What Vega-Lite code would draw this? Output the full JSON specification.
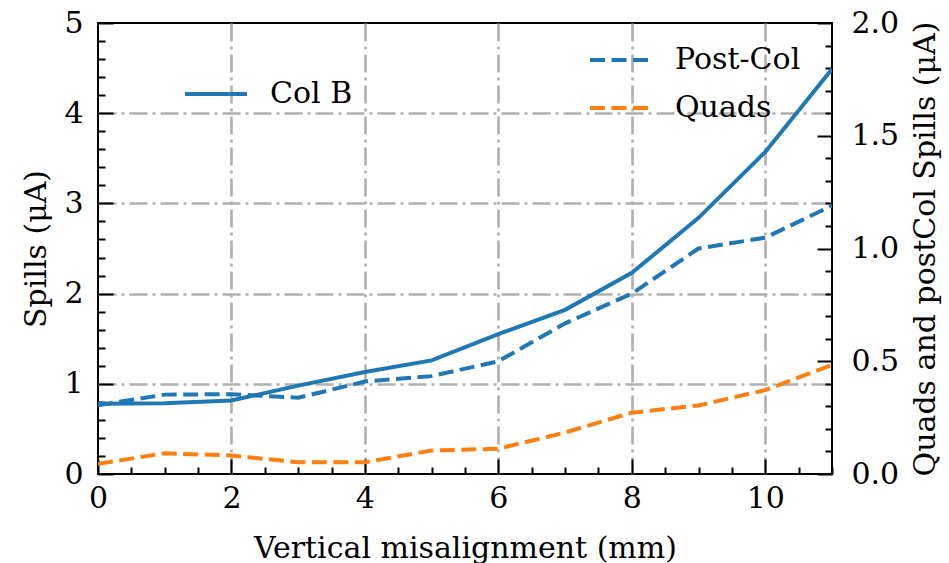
{
  "$schema": "https://vega.github.io/schema/vega-lite/v6.json",
  "width": 734,
  "height": 451,
  "autosize": {"type": "none"},
  "padding": {"left": 98, "top": 23, "right": 117, "bottom": 89},
  "background": "white",
  "config": {
    "font": "DejaVu Serif",
    "view": {"stroke": "black", "strokeWidth": 2},
    "axis": {
      "labelFont": "DejaVu Serif",
      "titleFont": "DejaVu Serif",
      "labelFontSize": 30,
      "titleFontSize": 30,
      "titleFontWeight": "normal",
      "labelColor": "black",
      "titleColor": "black",
      "tickColor": "black",
      "tickWidth": 2,
      "domain": false,
      "labelOverlap": false,
      "labelFlush": false,
      "gridColor": "#b0b0b0",
      "gridWidth": 2.6,
      "gridDash": [18, 5, 3, 5]
    },
    "legend": {
      "labelFont": "DejaVu Serif",
      "labelFontSize": 30,
      "labelColor": "black",
      "symbolType": "stroke",
      "symbolSize": 3844,
      "symbolStrokeWidth": 4,
      "padding": 0,
      "labelOffset": 21
    }
  },
  "data": {
    "values": [
      {"x": 0, "series": "Col B", "value": 0.78},
      {"x": 1, "series": "Col B", "value": 0.785},
      {"x": 2, "series": "Col B", "value": 0.815},
      {"x": 3, "series": "Col B", "value": 0.98},
      {"x": 4, "series": "Col B", "value": 1.13},
      {"x": 5, "series": "Col B", "value": 1.26},
      {"x": 6, "series": "Col B", "value": 1.55},
      {"x": 7, "series": "Col B", "value": 1.82},
      {"x": 8, "series": "Col B", "value": 2.23},
      {"x": 9, "series": "Col B", "value": 2.84},
      {"x": 10, "series": "Col B", "value": 3.57},
      {"x": 11, "series": "Col B", "value": 4.49},
      {"x": 0, "series": "Post-Col", "value": 0.305},
      {"x": 1, "series": "Post-Col", "value": 0.352},
      {"x": 2, "series": "Post-Col", "value": 0.354},
      {"x": 3, "series": "Post-Col", "value": 0.338},
      {"x": 4, "series": "Post-Col", "value": 0.41},
      {"x": 5, "series": "Post-Col", "value": 0.434},
      {"x": 6, "series": "Post-Col", "value": 0.5},
      {"x": 7, "series": "Post-Col", "value": 0.668},
      {"x": 8, "series": "Post-Col", "value": 0.8},
      {"x": 9, "series": "Post-Col", "value": 1.0},
      {"x": 10, "series": "Post-Col", "value": 1.048},
      {"x": 11, "series": "Post-Col", "value": 1.19},
      {"x": 0, "series": "Quads", "value": 0.045},
      {"x": 1, "series": "Quads", "value": 0.092},
      {"x": 2, "series": "Quads", "value": 0.082},
      {"x": 3, "series": "Quads", "value": 0.052},
      {"x": 4, "series": "Quads", "value": 0.052},
      {"x": 5, "series": "Quads", "value": 0.104},
      {"x": 6, "series": "Quads", "value": 0.112},
      {"x": 7, "series": "Quads", "value": 0.184},
      {"x": 8, "series": "Quads", "value": 0.272},
      {"x": 9, "series": "Quads", "value": 0.304},
      {"x": 10, "series": "Quads", "value": 0.372},
      {"x": 11, "series": "Quads", "value": 0.484}
    ]
  },
  "encoding": {
    "x": {
      "field": "x",
      "type": "quantitative",
      "scale": {"domain": [0, 11], "nice": false, "zero": false},
      "axis": {
        "title": "Vertical misalignment (mm)",
        "values": [0, 0.5, 1, 1.5, 2, 2.5, 3, 3.5, 4, 4.5, 5, 5.5, 6, 6.5, 7, 7.5, 8, 8.5, 9, 9.5, 10, 10.5, 11],
        "labelExpr": "datum.value % 2 === 0 ? '' + datum.value : ''",
        "tickSize": {"condition": {"test": "datum.value % 2 === 0", "value": -15}, "value": -7},
        "gridOpacity": {"condition": {"test": "datum.value % 2 === 0 && datum.value > 0 && datum.value < 11", "value": 1}, "value": 0},
        "grid": true,
        "labelPadding": 24,
        "titlePadding": 12
      }
    }
  },
  "layer": [
    {
      "transform": [{"filter": "datum.series === 'Col B'"}],
      "mark": {"type": "line", "strokeWidth": 4, "clip": true},
      "encoding": {
        "y": {
          "field": "value",
          "type": "quantitative",
          "scale": {"domain": [0, 5], "nice": false},
          "axis": {
            "title": "Spills (μA)",
            "orient": "left",
            "values": [0, 0.2, 0.4, 0.6, 0.8, 1, 1.2, 1.4, 1.6, 1.8, 2, 2.2, 2.4, 2.6, 2.8, 3, 3.2, 3.4, 3.6, 3.8, 4, 4.2, 4.4, 4.6, 4.8, 5],
            "labelExpr": "abs(datum.value - round(datum.value)) < 0.001 ? '' + round(datum.value) : ''",
            "tickSize": {"condition": {"test": "abs(datum.value - round(datum.value)) < 0.001", "value": -15}, "value": -7},
            "gridOpacity": {"condition": {"test": "abs(datum.value - round(datum.value)) < 0.001 && datum.value > 0 && datum.value < 5", "value": 1}, "value": 0},
            "grid": true,
            "labelPadding": 30,
            "titlePadding": 12
          }
        },
        "color": {
          "field": "series",
          "type": "nominal",
          "scale": {"domain": ["Col B"], "range": ["#1f77b4"]},
          "legend": {"title": null, "orient": "none", "legendX": 85, "legendY": 38}
        }
      }
    },
    {
      "transform": [{"filter": "datum.series !== 'Col B'"}],
      "mark": {"type": "line", "strokeWidth": 4, "strokeDash": [15, 6.5], "clip": true},
      "encoding": {
        "y": {
          "field": "value",
          "type": "quantitative",
          "scale": {"domain": [0, 2], "nice": false},
          "axis": {
            "title": "Quads and postCol Spills (μA)",
            "orient": "right",
            "titleAngle": 270,
            "titleBaseline": "top",
            "values": [0, 0.1, 0.2, 0.3, 0.4, 0.5, 0.6, 0.7, 0.8, 0.9, 1, 1.1, 1.2, 1.3, 1.4, 1.5, 1.6, 1.7, 1.8, 1.9, 2],
            "labelExpr": "abs(datum.value * 2 - round(datum.value * 2)) < 0.001 ? format(datum.value, '.1f') : ''",
            "tickSize": {"condition": {"test": "abs(datum.value * 2 - round(datum.value * 2)) < 0.001", "value": -15}, "value": -7},
            "grid": false,
            "labelPadding": 34,
            "titlePadding": 12
          }
        },
        "color": {
          "field": "series",
          "type": "nominal",
          "scale": {"domain": ["Post-Col", "Quads"], "range": ["#1f77b4", "#ff7f0e"]},
          "legend": {"title": null, "orient": "none", "legendX": 490, "legendY": 4, "symbolDash": [15, 6.5], "rowPadding": -22}
        }
      }
    }
  ],
  "resolve": {"scale": {"y": "independent", "color": "independent"}, "legend": {"color": "independent"}}
}
